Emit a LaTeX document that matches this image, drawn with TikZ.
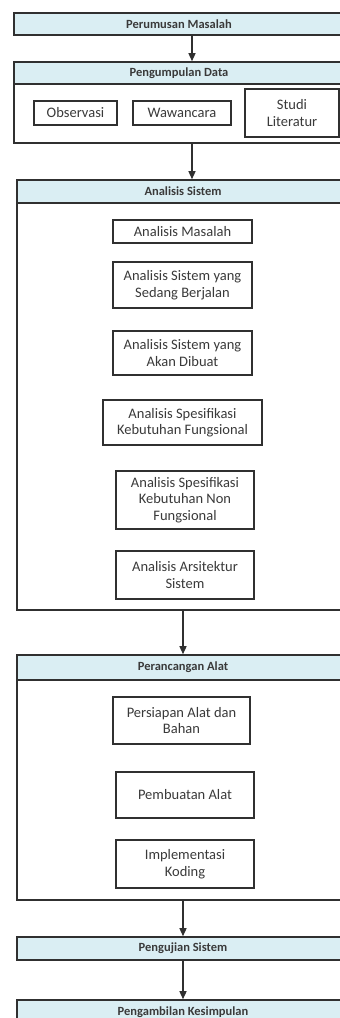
\documentclass[tikz,border=0pt]{standalone}
\usepackage{fontspec}
\setmainfont{Carlito}
\usetikzlibrary{arrows.meta}
\definecolor{hdrfill}{HTML}{DAEEF3}
\definecolor{linec}{HTML}{303030}
\definecolor{txtc}{HTML}{3A3A3A}
\begin{document}
\begin{tikzpicture}[x=1pt,y=-1pt,
  box/.style={draw=linec,line width=1.6pt,fill=white,inner sep=2pt,text=txtc,align=center,
    font=\fontsize{14.5}{16.5}\selectfont},
  hdr/.style={draw=linec,line width=1.6pt,fill=hdrfill,inner sep=0pt,text=txtc,
    font=\bfseries\fontsize{12.5}{14}\selectfont},
  outer/.style={draw=linec,line width=1.6pt,fill=white,inner sep=0pt},
  arr/.style={draw=linec,line width=1.4pt,-{Triangle[length=8pt,width=7pt]}}]
\useasboundingbox (0,0) rectangle (340,1018);
\clip (0,0) rectangle (340,1018);
\fill[white] (0,0) rectangle (340,1018);
% Perumusan Masalah
\node[hdr,minimum width=330pt,minimum height=22pt] (pm) at (179,24) {Perumusan Masalah};
% Pengumpulan Data
\node[outer,minimum width=330pt,minimum height=81pt] (pd) at (179,102.5) {};
\node[hdr,minimum width=330pt,minimum height=22pt] (pdh) at (179,73) {Pengumpulan Data};
\node[box,minimum width=83pt,minimum height=24pt] (obs) at (75.5,113) {Observasi};
\node[box,minimum width=98pt,minimum height=24pt] (waw) at (182,113) {Wawancara};
\node[box,minimum width=94pt,minimum height=48pt] (stu) at (292,113) {Studi\\Literatur};
% Analisis Sistem
\node[outer,minimum width=332pt,minimum height=430pt] (as) at (183,395) {};
\node[hdr,minimum width=332pt,minimum height=23pt] (ash) at (183,191.5) {Analisis Sistem};
\node[box,minimum width=139pt,minimum height=23pt] (am) at (182.5,231.5) {Analisis Masalah};
\node[box,minimum width=139pt,minimum height=46pt] (sb) at (182.5,285) {Analisis Sistem yang\\Sedang Berjalan};
\node[box,minimum width=139pt,minimum height=44pt] (ad) at (182.5,353) {Analisis Sistem yang\\Akan Dibuat};
\node[box,minimum width=159pt,minimum height=45pt] (kf) at (182.5,422.5) {Analisis Spesifikasi\\Kebutuhan Fungsional};
\node[box,minimum width=138pt,minimum height=58pt] (nf) at (185,500) {Analisis Spesifikasi\\Kebutuhan Non\\Fungsional};
\node[box,minimum width=138pt,minimum height=48pt] (ar) at (185,575) {Analisis Arsitektur\\Sistem};
% Perancangan Alat
\node[outer,minimum width=332pt,minimum height=245pt] (pa) at (183,777.5) {};
\node[hdr,minimum width=332pt,minimum height=25pt] (pah) at (183,667.5) {Perancangan Alat};
\node[box,minimum width=137pt,minimum height=47pt] (pab) at (181.5,720.5) {Persiapan Alat dan\\Bahan};
\node[box,minimum width=138pt,minimum height=46pt] (pba) at (185,795) {Pembuatan Alat};
\node[box,minimum width=138pt,minimum height=48pt] (ik) at (185,864) {Implementasi\\Koding};
% Pengujian Sistem
\node[hdr,minimum width=332pt,minimum height=23pt] (ps) at (183,948.5) {Pengujian Sistem};
% Pengambilan Kesimpulan
\node[hdr,minimum width=332pt,minimum height=24pt] (pk) at (183,1012) {Pengambilan Kesimpulan};
% arrows
\coordinate (xa) at (192,0);
\coordinate (xb) at (183,0);
\draw[arr] (pm.south -| xa) -- (pdh.north -| xa);
\draw[arr] (pd.south -| xa) -- (ash.north -| xa);
\draw[arr] (as.south -| xb) -- (pah.north -| xb);
\draw[arr] (pa.south -| xb) -- (ps.north -| xb);
\draw[arr] (ps.south -| xb) -- (pk.north -| xb);
\end{tikzpicture}
\end{document}
